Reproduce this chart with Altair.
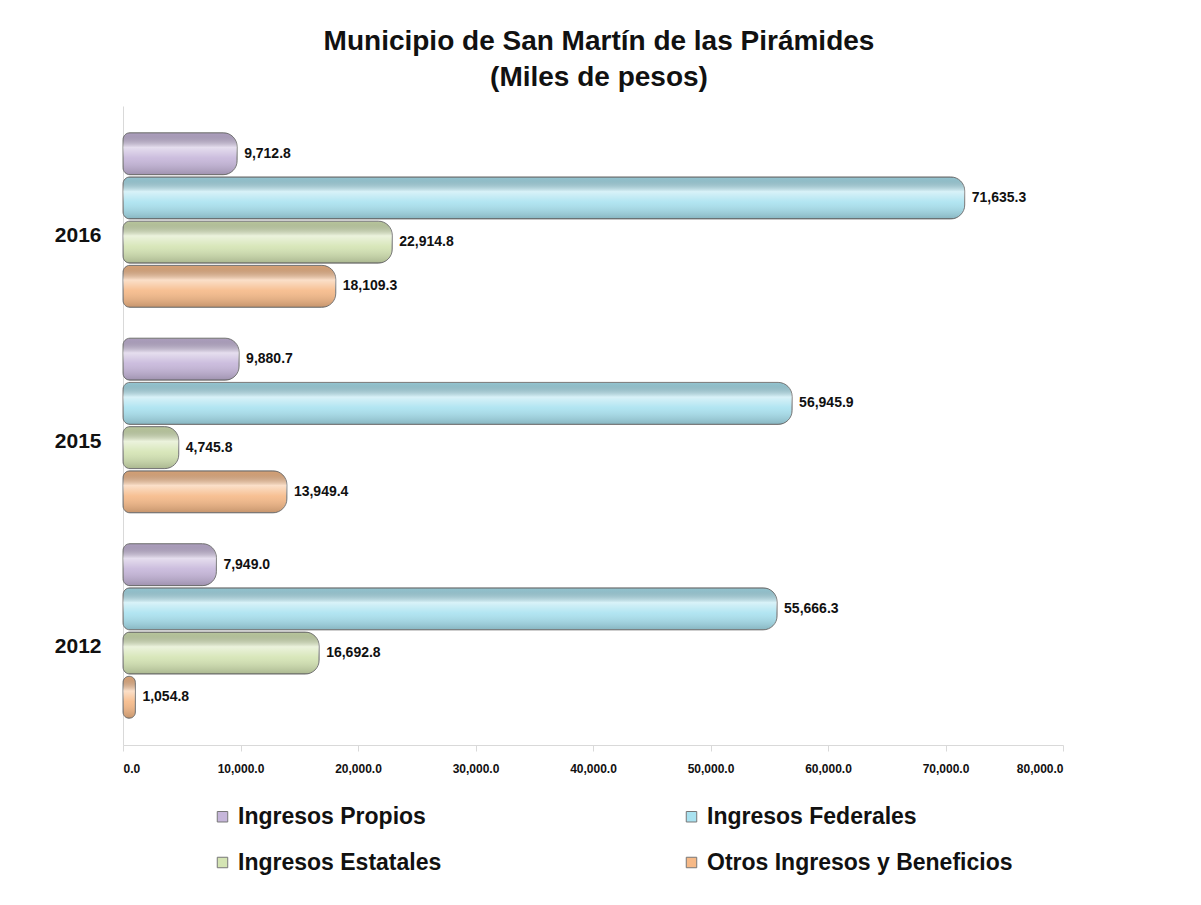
import altair as alt
import pandas as pd

years = ["2016", "2015", "2012"]
series = ["Ingresos Propios", "Ingresos Federales", "Ingresos Estatales", "Otros Ingresos y Beneficios"]
colors = ["#c6b6da", "#a9e2f0", "#d4e4b3", "#f6b987"]
legend_order = ["Ingresos Propios", "Ingresos Estatales", "Ingresos Federales", "Otros Ingresos y Beneficios"]
v2016 = [9712.8, 71635.3, 22914.8, 18109.3]
v2015 = [9880.7, 56945.9, 4745.8, 13949.4]
v2012 = [7949.0, 55666.3, 16692.8, 1054.8]
x_ticks = [0, 10000, 20000, 30000, 40000, 50000, 60000, 70000, 80000]

rows = []
for yr, vals in zip(years, [v2016, v2015, v2012]):
    for s, v in zip(series, vals):
        rows.append({"year": yr, "serie": s, "valor": v})
df = pd.DataFrame(rows)

color_of = dict(zip(series, colors))
legend_colors = [color_of[s] for s in legend_order]

FONT = "Liberation Sans Narrow, Arial Narrow, Liberation Sans, Arial"

y_enc = alt.Y("year:N", sort=years,
              scale=alt.Scale(paddingInner=0.15, paddingOuter=0.13),
              axis=alt.Axis(title=None, ticks=False, labelFontSize=21, labelFontWeight="bold",
                            labelPadding=22, labelColor="#111", labelOffset=16,
                            domainColor="#d9d9d9", labelFont=FONT))
yoff = alt.YOffset("serie:N", sort=series, scale=alt.Scale(paddingInner=0.05))
x_enc = alt.X("valor:Q",
              scale=alt.Scale(domain=[0, 80000], nice=False),
              axis=alt.Axis(title=None, values=x_ticks, format=",.1f", labelFontSize=12,
                            labelFontWeight="bold", labelColor="#111", domainColor="#d9d9d9",
                            tickColor="#d9d9d9", tickSize=6, labelPadding=12, grid=False,
                            labelFont=FONT))

base = alt.Chart(df)

bars = base.mark_bar(stroke="#7a7a7a", strokeWidth=1, cornerRadius=7, cornerRadiusEnd=14).encode(
    y=y_enc, yOffset=yoff, x=x_enc,
    color=alt.Color("serie:N",
                    scale=alt.Scale(domain=legend_order, range=legend_colors),
                    legend=alt.Legend(title=None, orient="none", legendX=88, legendY=699,
                                      columns=2, columnPadding=238, rowPadding=22,
                                      symbolType="square", symbolSize=110,
                                      symbolStrokeColor="#777", symbolStrokeWidth=1,
                                      labelFontSize=23, labelFontWeight="bold", labelFont=FONT,
                                      labelColor="#111", labelLimit=400, labelOffset=4)),
)

shade = base.mark_bar(cornerRadius=7, cornerRadiusEnd=14,
                      color=alt.Gradient(gradient="linear",
                                         stops=[alt.GradientStop(color="rgba(0,0,0,0.12)", offset=0),
                                                alt.GradientStop(color="rgba(255,255,255,0.55)", offset=0.35),
                                                alt.GradientStop(color="rgba(255,255,255,0.1)", offset=0.6),
                                                alt.GradientStop(color="rgba(0,0,0,0.2)", offset=1)],
                                         x1=0, x2=0, y1=0, y2=1)).encode(
    y=alt.Y("year:N", sort=years), yOffset=alt.YOffset("serie:N", sort=series), x=alt.X("valor:Q"),
)

labels = base.mark_text(align="left", baseline="middle", dx=7, fontSize=14, fontWeight="bold",
                        color="#111", font=FONT).encode(
    y=alt.Y("year:N", sort=years), yOffset=alt.YOffset("serie:N", sort=series), x=alt.X("valor:Q"),
    text=alt.Text("valor:Q", format=",.1f"),
)

chart = alt.layer(bars, shade, labels).properties(
    width=940, height=639,
    background="white",
    title=alt.TitleParams(["Municipio de San Martín de las Pirámides", "(Miles de pesos)"],
                          fontSize=28, font=FONT, fontWeight="bold", color="#111",
                          anchor="middle", offset=14, lineHeight=36, dx=6),
    autosize=alt.AutoSizeParams(type="none"),
    padding={"left": 115, "top": 98, "right": 120, "bottom": 150},
).configure_view(stroke=None)

chart.save("out.html", embed_options={"renderer": "svg", "actions": False})
